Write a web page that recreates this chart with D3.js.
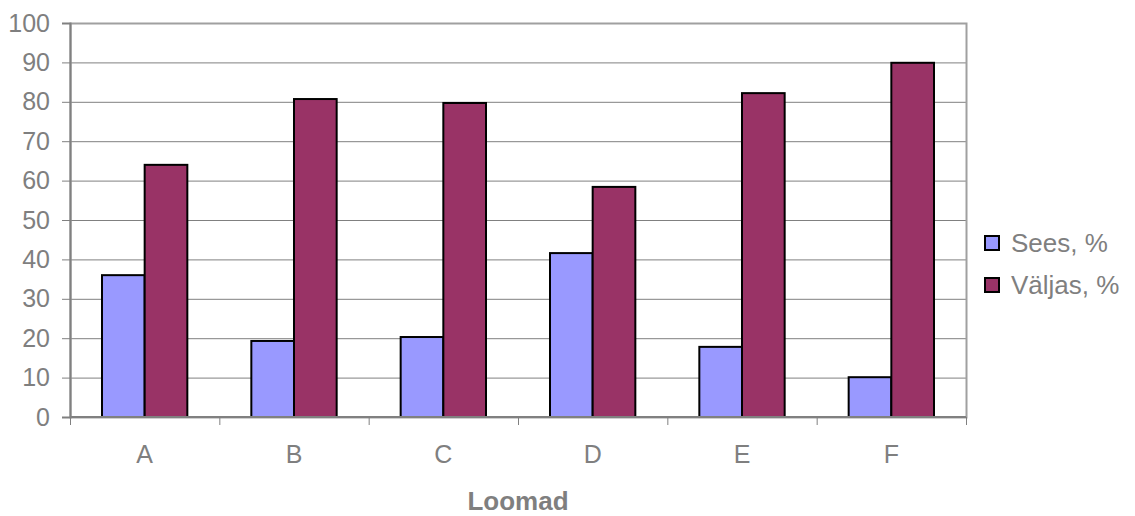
<!DOCTYPE html>
<html>
<head>
<meta charset="utf-8">
<script src="https://cdn.jsdelivr.net/npm/d3@7"></script>
<style>
  body { margin: 0; background: #fff; }
  text { font-family: "Liberation Sans", Arial, sans-serif; }
</style>
</head>
<body>
<div id="chart-area"></div>
<script>
// data
const categories = ["A", "B", "C", "D", "E", "F"];
const seriesNames = ["Sees, %", "Väljas, %"];
const sees = [36, 19.3, 20.3, 41.6, 17.8, 10.1];
const valjas = [64, 80.7, 79.7, 58.4, 82.2, 89.9];
const yTicks = [0, 10, 20, 30, 40, 50, 60, 70, 80, 90, 100];
const colors = ["#9999ff", "#993366"];

const W = 1135, H = 516;
const margin = {top: 23, right: 169, bottom: 99, left: 70};
const width = W - margin.left - margin.right;
const height = H - margin.top - margin.bottom;

const svg = d3.select("#chart-area").append("svg")
  .attr("width", W).attr("height", H);
const g = svg.append("g")
  .attr("transform", `translate(${margin.left},${margin.top})`);

// scales
const x = d3.scaleBand().domain(categories).range([0, width]).paddingInner(0).paddingOuter(0);
const y = d3.scaleLinear().domain([0, 100]).range([height, 0]);
const barW = x.bandwidth() / 3.5;
const gap = barW * 0.75;

// grid lines
g.selectAll(".grid").data(yTicks.slice(1)).enter().append("line")
  .attr("x1", 0).attr("x2", width)
  .attr("y1", d => y(d) + 0.5).attr("y2", d => y(d) + 0.5)
  .attr("stroke", "#808080").attr("stroke-width", 1);

// plot border (top and right)
g.append("rect")
  .attr("x", 0.5).attr("y", 0.5)
  .attr("width", width).attr("height", height)
  .attr("fill", "none").attr("stroke", "#a0a0a0").attr("stroke-width", 2);

// bars
const rows = categories.map((c, i) => ({cat: c, vals: [sees[i], valjas[i]]}));
const grp = g.selectAll(".cat").data(rows).enter().append("g")
  .attr("transform", d => `translate(${x(d.cat) + gap},0)`);
grp.selectAll("rect").data(d => d.vals).enter().append("rect")
  .attr("x", (d, j) => j * barW)
  .attr("y", d => y(d))
  .attr("width", barW)
  .attr("height", d => height - y(d))
  .attr("fill", (d, j) => colors[j])
  .attr("stroke", "#000").attr("stroke-width", 2);

// y axis
const axisLeft = d3.axisLeft(y).tickValues(yTicks).tickSize(8).tickPadding(12);
const yG = g.append("g").call(axisLeft);
yG.select(".domain").attr("stroke", "#808080").attr("stroke-width", 2);
yG.selectAll(".tick line").attr("stroke", "#808080").attr("stroke-width", 1);
yG.selectAll(".tick text").attr("fill", "#7f7f7f").attr("font-size", "25px")
  .attr("font-family", "Liberation Sans, Arial, sans-serif");

// x axis
const xG = g.append("g").attr("transform", `translate(0,${height})`);
xG.append("line").attr("x1", 0).attr("x2", width).attr("y1", 0).attr("y2", 0)
  .attr("stroke", "#808080").attr("stroke-width", 2);
const bounds = d3.range(categories.length + 1).map(i => i * x.step());
xG.selectAll(".xt").data(bounds).enter().append("line")
  .attr("x1", d => d + 0.5).attr("x2", d => d + 0.5)
  .attr("y1", 0).attr("y2", 8)
  .attr("stroke", "#808080").attr("stroke-width", 1);
xG.selectAll(".xl").data(categories).enter().append("text")
  .attr("x", d => x(d) + x.bandwidth() / 2)
  .attr("y", 46)
  .attr("text-anchor", "middle")
  .attr("fill", "#7f7f7f").attr("font-size", "25px")
  .text(d => d);

// x label
svg.append("text")
  .attr("x", margin.left + width / 2)
  .attr("y", 510)
  .attr("text-anchor", "middle")
  .attr("fill", "#7f7f7f").attr("font-size", "26px").attr("font-weight", "bold")
  .text("Loomad");

// legend
const legend = svg.append("g").attr("transform", "translate(985,236)");
seriesNames.forEach((s, i) => {
  const row = legend.append("g").attr("transform", `translate(0,${i * 42})`);
  row.append("rect").attr("x", 0).attr("y", 0).attr("width", 14).attr("height", 14)
    .attr("fill", colors[i]).attr("stroke", "#000").attr("stroke-width", 2);
  row.append("text").attr("x", 26).attr("y", 16)
    .attr("fill", "#7f7f7f").attr("font-size", "26px")
    .text(s);
});
</script>
</body>
</html>
